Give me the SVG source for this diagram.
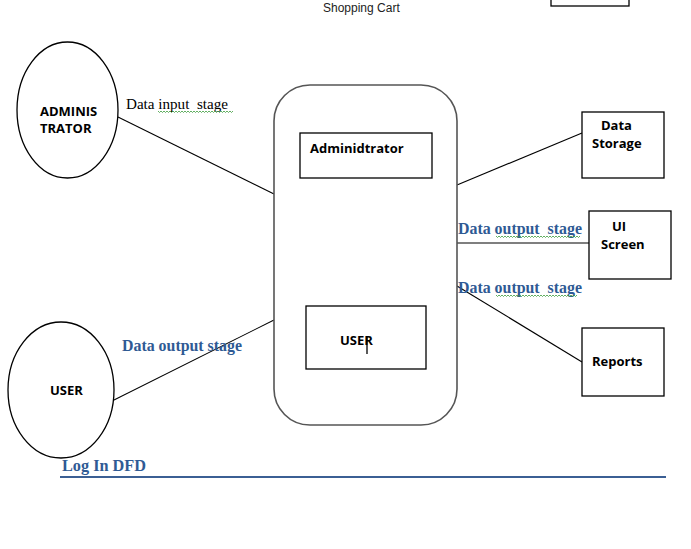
<svg xmlns="http://www.w3.org/2000/svg" width="691" height="549" viewBox="0 0 691 549">
<style>
.shape{fill:#fff;stroke:#000;stroke-width:1.3}
.conn{stroke:#000;stroke-width:1.1;fill:none}
.lbl{font-family:"Open Sans","Liberation Sans",sans-serif;font-weight:bold;font-size:13px;fill:#000}
.blue{font-family:"Liberation Serif","Times New Roman",serif;font-weight:bold;font-size:16px;fill:#2f5a94}
.blk{font-family:"Liberation Serif","Times New Roman",serif;font-size:15px;fill:#000}
.sq{stroke:#3a9a3a;stroke-width:0.8;fill:none}
</style>
<rect width="691" height="549" fill="#fff"/>
<g id="header">
<text x="323" y="12" font-family="Liberation Sans, Arial, sans-serif" font-size="12" fill="#222">Shopping Cart</text>
<rect x="551" y="-5" width="78" height="11" class="shape"/>
</g>
<g id="connectors">
<line x1="118" y1="117" x2="274" y2="194" class="conn"/>
<line x1="110" y1="402" x2="274" y2="320" class="conn"/>
<line x1="457" y1="185" x2="582" y2="133" class="conn"/>
<line x1="457" y1="243" x2="589" y2="243" class="conn"/>
<line x1="457" y1="286" x2="582" y2="362" class="conn"/>
</g>
<g id="system">
<rect x="274" y="85" width="183" height="340" rx="36" ry="36" fill="#fff" stroke="#555" stroke-width="1.6"/>
</g>
<g id="admin-proc">
<rect x="300" y="133" width="132" height="45" class="shape"/>
<text x="310" y="153" class="lbl">Adminidtrator</text>
</g>
<g id="user-proc">
<rect x="306" y="306" width="120" height="63" class="shape"/>
<text x="340" y="345" class="lbl">USER</text>
<line x1="367" y1="337" x2="367" y2="354" stroke="#000" stroke-width="1.3"/>
</g>
<g id="administrator">
<ellipse cx="67.5" cy="110" rx="50.5" ry="68" class="shape"/>
<text x="40" y="116" class="lbl">ADMINIS</text>
<text x="40" y="133" class="lbl">TRATOR</text>
</g>
<g id="user">
<ellipse cx="61" cy="390" rx="53" ry="68" class="shape"/>
<text x="50" y="395" class="lbl">USER</text>
</g>
<g id="data-storage">
<rect x="582" y="112" width="82" height="66" class="shape"/>
<text x="601" y="130" class="lbl">Data</text>
<text x="592" y="148" class="lbl">Storage</text>
</g>
<g id="ui-screen">
<rect x="589" y="211" width="82" height="68" class="shape"/>
<text x="612" y="231" class="lbl">UI</text>
<text x="601" y="249" class="lbl">Screen</text>
</g>
<g id="reports">
<rect x="582" y="328" width="82" height="68" class="shape"/>
<text x="592" y="366" class="lbl">Reports</text>
</g>
<g id="labels">
<text x="126" y="109" class="blk" textLength="102" lengthAdjust="spacingAndGlyphs">Data input &#160;stage</text>
<path class="sq" d="M158 111 l1.5 1.5 l1.5 -1.5 l1.5 1.5 l1.5 -1.5 l1.5 1.5 l1.5 -1.5 l1.5 1.5 l1.5 -1.5 l1.5 1.5 l1.5 -1.5 l1.5 1.5 l1.5 -1.5 l1.5 1.5 l1.5 -1.5 l1.5 1.5 l1.5 -1.5 l1.5 1.5 l1.5 -1.5 l1.5 1.5 l1.5 -1.5 l1.5 1.5 l1.5 -1.5 l1.5 1.5 l1.5 -1.5 l1.5 1.5 l1.5 -1.5 l1.5 1.5 l1.5 -1.5 l1.5 1.5 l1.5 -1.5 l1.5 1.5 l1.5 -1.5 l1.5 1.5 l1.5 -1.5 l1.5 1.5 l1.5 -1.5 l1.5 1.5 l1.5 -1.5 l1.5 1.5 l1.5 -1.5 l1.5 1.5 l1.5 -1.5 l1.5 1.5 l1.5 -1.5 l1.5 1.5 l1.5 -1.5 l1.5 1.5 l1.5 -1.5 l1.5 1.5 l1.5 -1.5"/>
<text x="458" y="234" class="blue" textLength="124" lengthAdjust="spacingAndGlyphs">Data output &#160;stage</text>
<path class="sq" d="M496 236 l1.5 1.5 l1.5 -1.5 l1.5 1.5 l1.5 -1.5 l1.5 1.5 l1.5 -1.5 l1.5 1.5 l1.5 -1.5 l1.5 1.5 l1.5 -1.5 l1.5 1.5 l1.5 -1.5 l1.5 1.5 l1.5 -1.5 l1.5 1.5 l1.5 -1.5 l1.5 1.5 l1.5 -1.5 l1.5 1.5 l1.5 -1.5 l1.5 1.5 l1.5 -1.5 l1.5 1.5 l1.5 -1.5 l1.5 1.5 l1.5 -1.5 l1.5 1.5 l1.5 -1.5 l1.5 1.5 l1.5 -1.5 l1.5 1.5 l1.5 -1.5 l1.5 1.5 l1.5 -1.5 l1.5 1.5 l1.5 -1.5 l1.5 1.5 l1.5 -1.5 l1.5 1.5 l1.5 -1.5 l1.5 1.5 l1.5 -1.5 l1.5 1.5 l1.5 -1.5 l1.5 1.5 l1.5 -1.5 l1.5 1.5 l1.5 -1.5 l1.5 1.5 l1.5 -1.5 l1.5 1.5 l1.5 -1.5 l1.5 1.5 l1.5 -1.5 l1.5 1.5 l1.5 -1.5"/>
<text x="458" y="293" class="blue" textLength="124" lengthAdjust="spacingAndGlyphs">Data output &#160;stage</text>
<path class="sq" d="M496 295 l1.5 1.5 l1.5 -1.5 l1.5 1.5 l1.5 -1.5 l1.5 1.5 l1.5 -1.5 l1.5 1.5 l1.5 -1.5 l1.5 1.5 l1.5 -1.5 l1.5 1.5 l1.5 -1.5 l1.5 1.5 l1.5 -1.5 l1.5 1.5 l1.5 -1.5 l1.5 1.5 l1.5 -1.5 l1.5 1.5 l1.5 -1.5 l1.5 1.5 l1.5 -1.5 l1.5 1.5 l1.5 -1.5 l1.5 1.5 l1.5 -1.5 l1.5 1.5 l1.5 -1.5 l1.5 1.5 l1.5 -1.5 l1.5 1.5 l1.5 -1.5 l1.5 1.5 l1.5 -1.5 l1.5 1.5 l1.5 -1.5 l1.5 1.5 l1.5 -1.5 l1.5 1.5 l1.5 -1.5 l1.5 1.5 l1.5 -1.5 l1.5 1.5 l1.5 -1.5 l1.5 1.5 l1.5 -1.5 l1.5 1.5 l1.5 -1.5 l1.5 1.5 l1.5 -1.5 l1.5 1.5 l1.5 -1.5 l1.5 1.5 l1.5 -1.5"/>
<text x="122" y="351" class="blue" textLength="120" lengthAdjust="spacingAndGlyphs">Data output stage</text>
</g>
<g id="footer">
<text x="62" y="471" class="blue" textLength="84" lengthAdjust="spacingAndGlyphs">Log In DFD</text>
<line x1="60" y1="477" x2="666" y2="477" stroke="#3b5f94" stroke-width="2"/>
</g>
</svg>
